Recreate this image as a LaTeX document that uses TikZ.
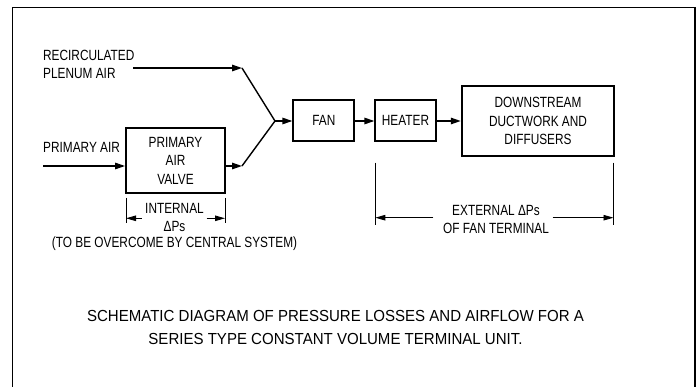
\documentclass[tikz,border=0pt]{standalone}
\usepackage{fontspec}
\setmainfont{Liberation Sans}
\newfontfamily\labfont[FakeStretch=0.8]{Liberation Sans}
\newfontfamily\capfont[FakeStretch=0.94]{Liberation Sans}
\usetikzlibrary{arrows.meta}
\begin{document}
\begin{tikzpicture}[x=1pt,y=-1pt,
  lab/.style={font=\labfont\fontsize{14.8}{18.5}\selectfont, inner sep=0pt, align=center},
  box/.style={draw, line width=1.9pt, lab},
  flow/.style={line width=1.4pt, -{Triangle[length=10pt,width=6.5pt]}},
  plain/.style={line width=1.4pt},
  tickline/.style={line width=0.9pt},
  dim/.style={line width=0.9pt, -{Triangle[length=10pt,width=5.5pt]}},
  frame/.style={line width=1.4pt}
]
\useasboundingbox (0,0) rectangle (697,387);
% frame
\coordinate (f1) at (12.5,387);
\coordinate (f2) at (12.5,7.5);
\coordinate (f3) at (695,7.5);
\coordinate (f4) at (695,387);
\draw[frame] (f1) -- (f2) -- (f3) -- (f4);

% boxes
\node[box, minimum width=99pt, minimum height=64.4pt] (valve) at (175.5,160.5) {PRIMARY\\AIR\\VALVE};
\node[box, minimum width=61pt, minimum height=40.7pt] (fan) at (323.8,120.4) {FAN};
\node[box, minimum width=60.4pt, minimum height=40.7pt] (heater) at (405.5,120.4) {HEATER};
\node[box, minimum width=152.6pt, minimum height=70pt] (down) at (538,121) {DOWNSTREAM\\DUCTWORK AND\\DIFFUSERS};

% labels
\node[lab, anchor=west, align=left, font=\labfont\fontsize{14.8}{18}\selectfont] (recirc) at (43,64.5) {RECIRCULATED\\PLENUM AIR};
\node[lab, anchor=west] (prim) at (43,147) {PRIMARY AIR};
\node[lab, font=\labfont\fontsize{14.8}{18}\selectfont] (intl) at (174.5,217) {INTERNAL\\ΔPs};
\node[lab] (overcome) at (174.5,244) {(TO BE OVERCOME BY CENTRAL SYSTEM)};
\node[lab, font=\labfont\fontsize{14.8}{18}\selectfont] (extl) at (496,219) {EXTERNAL ΔPs\\OF FAN TERMINAL};
\node[inner sep=0pt, align=center, font=\capfont\fontsize{16}{23}\selectfont] (caption) at (335.5,327.5)
  {SCHEMATIC DIAGRAM OF PRESSURE LOSSES AND AIRFLOW FOR A\\SERIES TYPE CONSTANT VOLUME TERMINAL UNIT.};

% flow connectors
\coordinate (rstart) at (133,68);
\coordinate (rbend) at (242,68);
\coordinate (junc) at (275,121);
\coordinate (pa) at (43,166);
\coordinate (vbend) at (242,166);
\draw[flow] (rstart) -- (rbend);
\draw[plain] (rbend) -- (junc);
\draw[flow] (pa) -- (pa -| valve.west);
\draw[flow] (pa -| valve.east) -- (vbend);
\draw[plain] (vbend) -- (junc);
\draw[flow] (junc) -- (junc -| fan.west);
\draw[flow] (fan.east |- junc) -- (heater.west |- junc);
\draw[flow] (heater.east |- junc) -- (down.west |- junc);

% internal dimension
\coordinate (it1a) at (126,198);
\coordinate (it1b) at (126,223);
\coordinate (it2a) at (225,198);
\coordinate (it2b) at (225,223);
\coordinate (ia1) at (141.7,218.3);
\coordinate (ia1e) at (126,218.3);
\coordinate (ia2) at (206.7,218.3);
\coordinate (ia2e) at (225,218.3);
\draw[tickline] (it1a) -- (it1b);
\draw[tickline] (it2a) -- (it2b);
\draw[dim] (ia1) -- (ia1e);
\draw[dim] (ia2) -- (ia2e);

% external dimension
\coordinate (et1a) at (375.3,162.7);
\coordinate (et1b) at (375.3,225);
\coordinate (et2a) at (613.5,162.7);
\coordinate (et2b) at (613.5,225);
\coordinate (ea1) at (433.3,217.7);
\coordinate (ea1e) at (375.3,217.7);
\coordinate (ea2) at (552.7,217.7);
\coordinate (ea2e) at (613.5,217.7);
\draw[tickline] (et1a) -- (et1b);
\draw[tickline] (et2a) -- (et2b);
\draw[dim] (ea1) -- (ea1e);
\draw[dim] (ea2) -- (ea2e);
\end{tikzpicture}
\end{document}
